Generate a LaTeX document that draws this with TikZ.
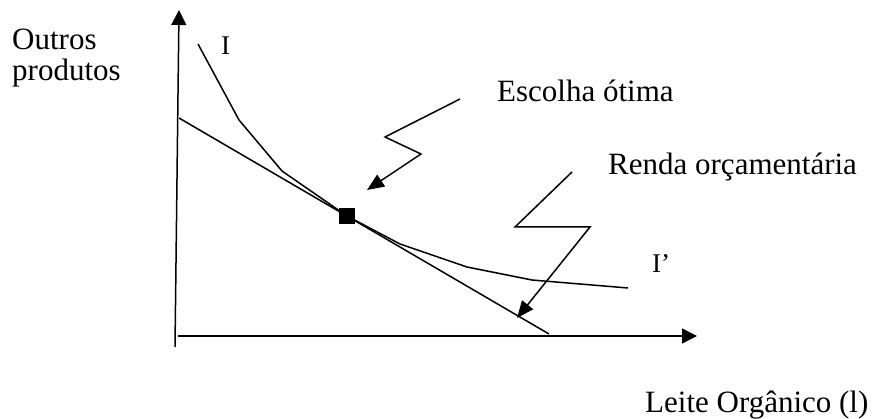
\documentclass[tikz,border=0pt]{standalone}
\usepackage{fontspec}
\setmainfont{Liberation Serif}
\usetikzlibrary{arrows.meta}

\tikzset{
  axis/.style={line width=1.5pt, -{Triangle[length=15pt,width=15pt]}},
  curve/.style={line width=1.5pt, line join=round},
  pointer/.style={line width=1.5pt, line join=miter, -{Triangle[length=17pt,width=14pt]}},
  lbl/.style={inner sep=0pt, anchor=base west, font=\fontsize{31}{36}\selectfont},
  curvelbl/.style={inner sep=0pt, anchor=base west, font=\fontsize{27}{32}\selectfont},
  optbox/.style={fill=black, minimum size=16pt, inner sep=0pt}
}

\begin{document}
\begin{tikzpicture}[x=1pt, y=-1pt]
    \useasboundingbox (0,0) rectangle (875,419);

    % Eixos
    \coordinate (origem) at (175,347);
    \coordinate (ytopo) at (179,10);
    \coordinate (xorig) at (178,336);
    \coordinate (xfim) at (697,336);
    \draw[axis] (origem) -- (ytopo);
    \draw[axis] (xorig) -- (xfim);

    % Renda orcamentaria (reta)
    \coordinate (rini) at (179,118);
    \coordinate (rfim) at (549,334);
    \draw[curve] (rini) -- (rfim);

    % Curva de indiferenca
    \draw[curve] (198,44) -- (239,120) -- (282,171) -- (347,216)
          -- (400,244) -- (467,267) -- (532,280) -- (628,288);

    % Escolha otima
    \node[optbox] (otimo) at (347,216) {};

    % Rotulos
    \node[lbl] (outros) at (12,50) {Outros};
    \node[lbl] (produtos) at (12,80.5) {produtos};
    \node[curvelbl] (curvaI) at (221,55) {I};
    \node[curvelbl] (curvaII) at (652,273) {I'};
    \node[lbl] (escolha) at (497,102) {Escolha ótima};
    \node[lbl] (renda) at (608,175) {Renda orçamentária};
    \node[lbl] (leite) at (645,412) {Leite Orgânico (l)};

    % Setas em zigue-zague
    \coordinate (e1) at (460,99);
    \coordinate (e2) at (385,137);
    \coordinate (e3) at (421,154);
    \coordinate (e4) at (367,190);
    \draw[pointer] (e1) -- (e2) -- (e3) -- (e4);

    \coordinate (r1) at (572,172);
    \coordinate (r2) at (515,227);
    \coordinate (r3) at (590,227);
    \coordinate (r4) at (517,318);
    \draw[pointer] (r1) -- (r2) -- (r3) -- (r4);
\end{tikzpicture}
\end{document}
